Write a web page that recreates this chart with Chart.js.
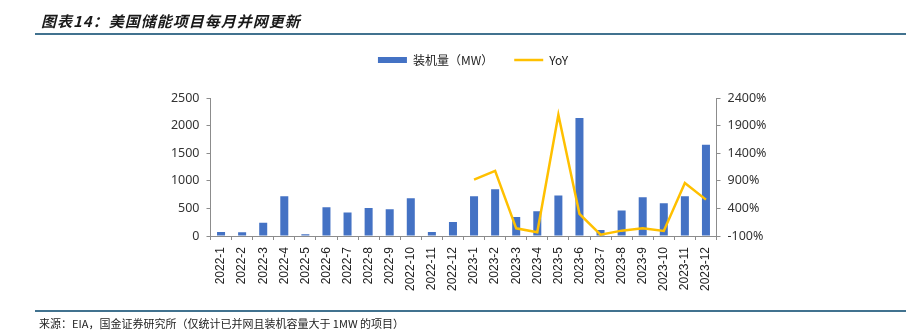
<!DOCTYPE html>
<html>
<head>
<meta charset="utf-8">
<script src="https://cdn.jsdelivr.net/npm/chart.js@4.4.0/dist/chart.umd.min.js"></script>
<style>
  html, body { margin: 0; padding: 0; background: #fff; }
</style>
</head>
<body>
<canvas id="chart" width="924" height="331"></canvas>
<script>
// data
const months = ["2022-1", "2022-2", "2022-3", "2022-4", "2022-5", "2022-6", "2022-7", "2022-8", "2022-9", "2022-10", "2022-11", "2022-12",
  "2023-1", "2023-2", "2023-3", "2023-4", "2023-5", "2023-6", "2023-7", "2023-8", "2023-9", "2023-10", "2023-11", "2023-12"];
const capacity = [72, 70, 242, 720, 30, 520, 424, 508, 484, 684, 73, 254,
  720, 847, 345, 448, 732, 2136, 109, 460, 702, 593, 720, 1652];
const yoy = [null, null, null, null, null, null, null, null, null, null, null, null,
  922, 1080, 39, -33, 2096, 299, -76, -3, 39, -9, 862, 559];
const leftTicks = [0, 500, 1000, 1500, 2000, 2500];
const rightTicks = [-100, 400, 900, 1400, 1900, 2400];

const titleText = "图表14：美国储能项目每月并网更新";
const sourceText = "来源：EIA，国金证券研究所（仅统计已并网且装机容量大于 1MW 的项目）";

const PAD_TOP = 33;
const PLOT_TOP = 98;

// fixes the legend height so the plot starts where the reference does, draws title and footer
const frame = {
  id: "frame",
  beforeLayout(chart) {
    const lg = chart.legend;
    if (lg && !lg._patched) {
      const fit = lg.fit;
      lg.fit = function () {
        fit.call(this);
        this.height = PLOT_TOP - PAD_TOP;
      };
      lg._patched = true;
    }
  },
  afterLayout(chart) {
    chart.legend.left += 11;
    chart.legend.right += 11;
  },
  afterDraw(chart) {
    const ctx = chart.ctx;
    ctx.save();
    ctx.fillStyle = "#1a1a1a";
    ctx.textBaseline = "middle";
    ctx.font = "italic bold 15px 'Noto Sans CJK SC'";
    ctx.letterSpacing = "1px";
    ctx.fillText(titleText, 41, 21);
    ctx.letterSpacing = "0px";
    ctx.font = "11px 'Noto Sans CJK SC'";
    ctx.fillStyle = "#222";
    ctx.fillText(sourceText, 39, 324);
    ctx.strokeStyle = "#41728f";
    ctx.lineWidth = 2;
    ctx.beginPath();
    ctx.moveTo(35, 34); ctx.lineTo(906, 34);
    ctx.moveTo(35, 311); ctx.lineTo(906, 311);
    ctx.stroke();
    ctx.restore();
  }
};

const tickFont = { family: "'Noto Sans'", size: 12.5 };

new Chart(document.getElementById("chart"), {
  type: "bar",
  data: {
    labels: months,
    datasets: [
      {
        label: "装机量（MW）",
        data: capacity,
        backgroundColor: "#4472C4",
        borderWidth: 0,
        barPercentage: 0.38,
        categoryPercentage: 1,
        pointStyle: "rect",
        yAxisID: "y",
        order: 1,
      },
      {
        type: "line",
        label: "YoY",
        data: yoy,
        borderColor: "#FFC000",
        backgroundColor: "#FFC000",
        borderWidth: 2.5,
        pointRadius: 0,
        pointStyle: "line",
        tension: 0,
        yAxisID: "y1",
        order: 0,
      },
    ],
  },
  options: {
    responsive: false,
    animation: false,
    devicePixelRatio: 1,
    layout: { padding: { top: PAD_TOP, left: 0, right: 0, bottom: 0 } },
    plugins: {
      legend: {
        position: "top",
        labels: {
          usePointStyle: true,
          pointStyleWidth: 29,
          boxHeight: 6,
          padding: 21,
          color: "#222",
          font: { family: "'Noto Sans CJK SC'", size: 12 },
          sort: (a, b) => a.datasetIndex - b.datasetIndex,
        },
      },
      tooltip: { enabled: false },
    },
    scales: {
      x: {
        grid: { display: true, drawOnChartArea: false, offset: true, tickLength: 4, color: "#8c8c8c" },
        border: { color: "#8c8c8c", width: 1 },
        ticks: {
          minRotation: 90, maxRotation: 90, autoSkip: false, padding: 7,
          color: "#222", font: { family: "'Liberation Sans'", size: 12 },
        },
        afterFit(scale) { scale.height = 331 - 236; },
      },
      y: {
        position: "left",
        min: 0, max: 2500,
        afterBuildTicks(scale) { scale.ticks = leftTicks.map(v => ({ value: v })); },
        grid: { display: true, drawOnChartArea: false, tickLength: 4, color: "#8c8c8c" },
        border: { color: "#8c8c8c", width: 1 },
        ticks: { padding: 7, color: "#333", font: tickFont, callback: v => String(v) },
        afterFit(scale) { scale.width = 210.5; },
      },
      y1: {
        position: "right",
        min: -100, max: 2400,
        afterBuildTicks(scale) { scale.ticks = rightTicks.map(v => ({ value: v })); },
        grid: { display: true, drawOnChartArea: false, tickLength: 4, color: "#8c8c8c" },
        border: { color: "#8c8c8c", width: 1 },
        ticks: { padding: 7, color: "#333", font: tickFont, callback: v => v + "%" },
        afterFit(scale) { scale.width = 924 - 716.5; },
      },
    },
  },
  plugins: [frame],
});
</script>
</body>
</html>
